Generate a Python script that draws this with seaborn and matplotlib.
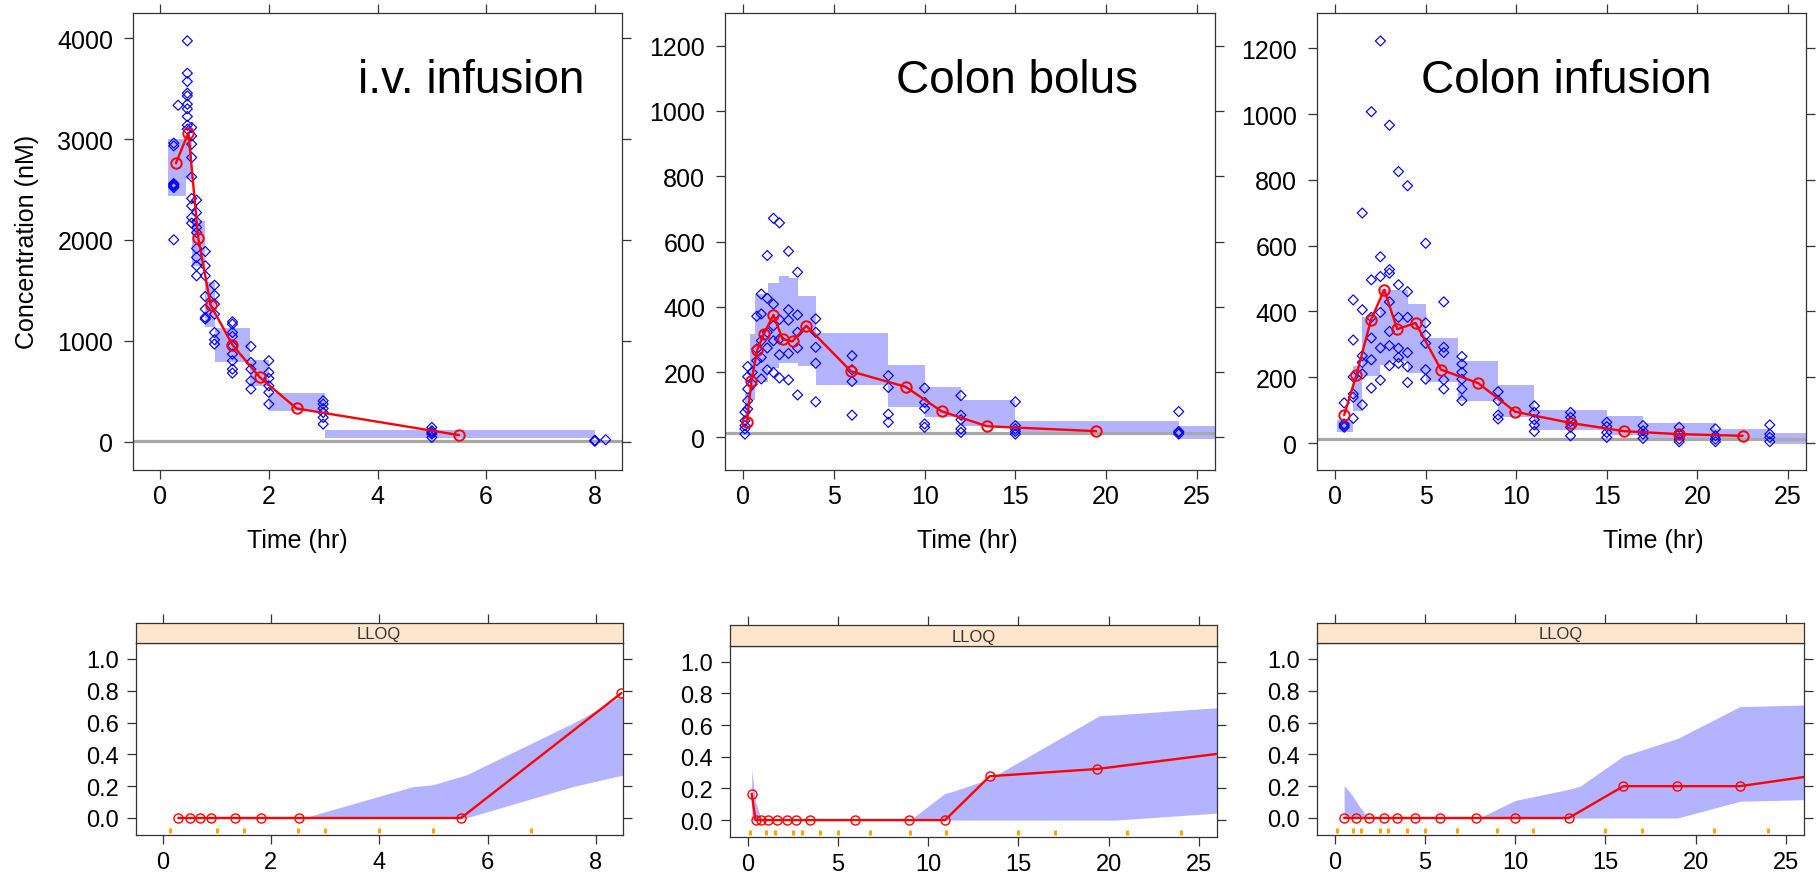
import numpy as np
import pandas as pd
import matplotlib
matplotlib.use("Agg")
import matplotlib.pyplot as plt
import seaborn as sns

sns.set_style("ticks")
plt.rcParams['font.family'] = ['Liberation Sans', 'DejaVu Sans']
plt.rcParams['text.color'] = 'black'
plt.rcParams['xtick.labelcolor'] = 'black'
plt.rcParams['ytick.labelcolor'] = 'black'

W, H = 1816, 878
BAND = '#B3B3FF'
LLOQ = 12
EDGE = '#333333'

# ---------------- i.v. infusion ----------------
iv_obs_times = [0.25, 0.33, 0.5, 0.58, 0.67, 0.83, 1.0, 1.33, 1.67, 2.0, 3.0, 5.0, 8.0, 8.2]
iv_obs_conc = [
    [2960, 2933, 2560, 2545, 2530, 2550, 2520, 2002],
    [3336],
    [3974, 3653, 3571, 3455, 3428, 3346, 3300, 3224, 3138, 3098],
    [3115, 3032, 2950, 2818, 2626, 2411, 2338, 2223, 2167],
    [2395, 2272, 2180, 2124, 2074, 1916, 1827, 1744, 1645],
    [1886, 1744, 1645, 1440, 1315, 1232, 1216],
    [1552, 1453, 1364, 1265, 1083, 1011, 968],
    [1189, 1166, 1083, 1044, 951, 869, 803, 720, 680],
    [945, 786, 720, 604, 522],
    [803, 687, 628, 555, 489, 373],
    [406, 373, 330, 290, 241, 175],
    [142, 109, 92, 76, 43],
    [15, 10, 5],
    [20],
]
iv_med_t = [0.29, 0.52, 0.70, 0.93, 1.33, 1.83, 2.51, 5.50]
iv_med_c = [2761, 3065, 2021, 1354, 961, 641, 330, 66]
iv_bin_edges = [0.15, 0.47, 0.58, 0.83, 1.0, 1.66, 2.0, 3.03, 8.0]
iv_pi_lo = [2438, 2600, 1744, 1133, 786, 555, 300, 40]
iv_pi_hi = [2999, 3000, 2190, 1580, 1126, 809, 482, 116]

iv_blq_t = [0.29, 0.51, 0.69, 0.9, 1.33, 1.82, 2.51, 5.51, 8.47]
iv_blq_obs = [0, 0, 0, 0, 0, 0, 0, 0, 0.785]
iv_blq_band_t = [0.29, 2.6, 4.6, 5.0, 5.6, 7.6, 8.5]
iv_blq_hi = [0, 0, 0.195, 0.21, 0.27, 0.6, 0.77]
iv_blq_lo = [0, 0, 0, 0, 0, 0.2, 0.27]
iv_blq_bins = [0.14, 1.0, 1.5, 2.5, 3.0, 4.0, 5.0, 6.8]

# ---------------- Colon bolus ----------------
cb_obs_times = [0.1, 0.25, 0.5, 0.75, 1.0, 1.33, 1.67, 2.0, 2.5, 3.0, 4.0, 6.0, 8.0, 10.0, 12.0, 15.0, 24.0]
cb_obs_conc = [
    [10, 26, 36, 51, 77],
    [87, 112, 148, 186, 217],
    [163, 199],
    [371, 271, 235],
    [439, 378, 245, 179, 296],
    [557, 426, 322, 274, 207],
    [671, 408, 342, 296, 199],
    [657, 361, 301, 253, 182],
    [570, 391, 359, 257, 176],
    [506, 375, 322, 274, 130],
    [363, 322, 276, 227, 109],
    [250, 207, 171, 68],
    [189, 153, 71, 46],
    [151, 107, 89, 41, 31],
    [128, 68, 54, 26, 15],
    [109, 36, 26, 18, 10],
    [79, 18, 15, 10],
]
cb_med_t = [0.21, 0.46, 0.78, 1.14, 1.67, 2.17, 2.72, 3.48, 5.95, 8.95, 10.93, 13.44, 19.45]
cb_med_c = [46, 174, 268, 317, 375, 301, 294, 342, 202, 155, 80, 34, 19]
cb_bin_edges = [0.1, 0.36, 0.68, 1.35, 2.0, 2.5, 3.0, 4.0, 8.0, 10.0, 12.0, 15.0, 24.0, 26.5]
cb_pi_lo = [70, 114, 171, 214, 227, 227, 219, 159, 93, 62, 36, 15, -5]
cb_pi_hi = [140, 317, 438, 474, 495, 487, 433, 319, 221, 154, 113, 49, 34]

cb_blq_t = [0.23, 0.44, 0.76, 1.12, 1.61, 2.18, 2.71, 3.45, 5.94, 8.95, 10.94, 13.41, 19.37, 28.0]
cb_blq_obs = [0.166, 0, 0, 0, 0, 0, 0, 0, 0, 0, 0, 0.277, 0.323, 0.447]
cb_blq_band_t = [0.23, 0.44, 0.76, 9.0, 10.9, 11.6, 13.4, 19.5, 20.4, 26.0]
cb_blq_hi = [0.32, 0.12, 0, 0, 0.166, 0.19, 0.26, 0.66, 0.665, 0.71]
cb_blq_lo = [0, 0, 0, 0, 0, 0, 0, 0, 0, 0.044]
cb_blq_bins = [0.13, 1.0, 1.5, 2.5, 3.0, 4.0, 5.0, 6.8, 9.0, 11.0, 15.0, 17.0, 21.0, 24.0]

# ---------------- Colon infusion ----------------
ci_obs_times = [0.5, 1.0, 1.5, 2.0, 2.5, 3.0, 3.5, 4.0, 5.0, 6.0, 7.0, 9.0, 11.0, 13.0, 15.0, 17.0, 19.0, 21.0, 24.0]
ci_obs_conc = [
    [122, 58, 53, 48],
    [435, 313, 201, 149, 139, 75],
    [699, 405, 265, 245, 210, 116],
    [1007, 496, 382, 319, 253, 167],
    [1222, 566, 506, 397, 289, 191],
    [966, 527, 516, 429, 339, 296, 235],
    [825, 481, 382, 288, 260, 242],
    [782, 460, 382, 275, 232, 184],
    [607, 365, 328, 303, 223, 194],
    [429, 291, 275, 192, 164],
    [263, 240, 215, 194, 164, 129],
    [156, 129, 85, 73],
    [113, 93, 71, 55, 35],
    [93, 78, 65, 48, 22],
    [63, 50, 32, 17],
    [53, 37, 27, 14],
    [48, 27, 12, 4],
    [43, 22, 12, 4],
    [55, 27, 17, 4],
]
ci_med_t = [0.5, 1.18, 1.98, 2.71, 3.43, 4.44, 5.85, 7.9, 9.95, 13.0, 15.96, 18.99, 22.5]
ci_med_c = [85, 208, 374, 466, 346, 365, 223, 182, 95, 61, 36, 27, 22]
ci_bin_edges = [0.13, 1.0, 1.5, 2.5, 3.0, 4.0, 5.0, 6.8, 9.0, 11.0, 15.0, 17.0, 21.0, 24.0, 26.5]
ci_pi_lo = [32, 98, 205, 237, 250, 213, 184, 129, 78, 41, 24, 14, 10, -3]
ci_pi_hi = [71, 233, 382, 468, 465, 422, 318, 250, 177, 101, 83, 61, 43, 29]

ci_blq_t = [0.53, 1.18, 1.92, 2.74, 3.45, 4.44, 5.83, 7.86, 10.0, 12.97, 16.0, 18.98, 22.45, 28.0]
ci_blq_obs = [0, 0, 0, 0, 0, 0, 0, 0, 0, 0, 0.2, 0.2, 0.2, 0.29]
ci_blq_band_t = [0.53, 1.0, 1.33, 1.85, 8.0, 10.0, 12.97, 13.6, 16.0, 19.0, 22.45, 26.0]
ci_blq_hi = [0.205, 0.14, 0.08, 0, 0, 0.11, 0.18, 0.2, 0.39, 0.5, 0.70, 0.71]
ci_blq_lo = [0, 0, 0, 0, 0, 0, 0, 0, 0, 0, 0.105, 0.115]
ci_blq_bins = [0.13, 1.0, 1.45, 2.5, 2.95, 4.0, 5.0, 6.8, 9.0, 11.0, 15.0, 17.0, 21.0, 24.0]

titles = ['i.v. infusion', 'Colon bolus', 'Colon infusion']
title_x = [471, 1017, 1566]
xlabel_x = [297, 967, 1653]

fig = plt.figure(figsize=(W / 100, H / 100), dpi=100)


def add_ax(x0, x1, y0, y1):
    return fig.add_axes([x0 / W, 1 - y1 / H, (x1 - x0) / W, (y1 - y0) / H])


def style(ax, top=True, right=True, labelsize=18, xpad=4, ypad=8):
    for s in ax.spines.values():
        s.set_color(EDGE)
        s.set_linewidth(0.9)
    ax.tick_params(direction='out', length=6.2, width=0.9, color=EDGE,
                   top=top, right=right, labeltop=False, labelright=False,
                   labelsize=labelsize, labelcolor='black')
    ax.tick_params(axis='x', pad=xpad)
    ax.tick_params(axis='y', pad=ypad)
    ax.set_xlabel('')
    ax.set_ylabel('')


top_pos = [(133, 622, 14, 471), (725, 1215, 14, 471), (1317, 1806, 14, 471)]
bot_pos = [(135.5, 623, 644, 836), (729.5, 1217, 647, 838), (1316.5, 1804, 644, 836)]
strip_pos = [(135.5, 623, 624, 644), (729.5, 1217, 626, 647), (1316.5, 1804, 624, 644)]
xlims = [(-0.5, 8.5), (-1.0, 26.0), (-1.0, 26.0)]
ylims = [(-280, 4250), (-100, 1300), (-82, 1307)]
xticks = [[0, 2, 4, 6, 8], [0, 5, 10, 15, 20, 25], [0, 5, 10, 15, 20, 25]]
yticks = [[0, 1000, 2000, 3000, 4000], [0, 200, 400, 600, 800, 1000, 1200],
          [0, 200, 400, 600, 800, 1000, 1200]]

panels = [
    (iv_obs_times, iv_obs_conc, iv_med_t, iv_med_c, iv_bin_edges, iv_pi_lo, iv_pi_hi,
     iv_blq_t, iv_blq_obs, iv_blq_band_t, iv_blq_lo, iv_blq_hi, iv_blq_bins),
    (cb_obs_times, cb_obs_conc, cb_med_t, cb_med_c, cb_bin_edges, cb_pi_lo, cb_pi_hi,
     cb_blq_t, cb_blq_obs, cb_blq_band_t, cb_blq_lo, cb_blq_hi, cb_blq_bins),
    (ci_obs_times, ci_obs_conc, ci_med_t, ci_med_c, ci_bin_edges, ci_pi_lo, ci_pi_hi,
     ci_blq_t, ci_blq_obs, ci_blq_band_t, ci_blq_lo, ci_blq_hi, ci_blq_bins),
]

for i, (ot, oc, mt, mc, edges, lo, hi, bt, bo, bbt, blo, bhi, bbins) in enumerate(panels):
    # ---- top panel ----
    ax = add_ax(*top_pos[i])
    ax.fill_between(edges, lo + [lo[-1]], hi + [hi[-1]], step='post',
                    color=BAND, lw=0, zorder=1)
    ax.axhline(LLOQ, color='#A8A8A8', lw=2.3, zorder=2)
    df = pd.DataFrame({'t': [t for t, cs in zip(ot, oc) for _ in cs],
                       'c': [c for cs in oc for c in cs]})
    sns.scatterplot(data=df, x='t', y='c', ax=ax, marker='D', s=26,
                    facecolors='none', edgecolors='blue', linewidth=0.85, zorder=3)
    sns.lineplot(x=mt, y=mc, ax=ax, color='red', lw=1.7, marker='o', ms=7.5,
                 markerfacecolor='none', markeredgecolor='red', markeredgewidth=1.4,
                 estimator=None, sort=False, zorder=4)
    ax.set_xlim(*xlims[i])
    ax.set_ylim(*ylims[i])
    ax.set_xticks(xticks[i])
    ax.set_yticks(yticks[i])
    style(ax)
    fig.text(title_x[i] / W, 1 - 93 / H, titles[i], fontsize=33, ha='center',
             va='baseline', color='black')
    fig.text(xlabel_x[i] / W, 1 - 541 / H, 'Time (hr)', fontsize=18, ha='center',
             va='center', color='black')

    # ---- bottom LLOQ panel ----
    bx = add_ax(*bot_pos[i])
    bx.fill_between(bbt, blo, bhi, color=BAND, lw=0, zorder=1)
    sns.lineplot(x=bt, y=bo, ax=bx, color='red', lw=1.7, marker='o', ms=6.5,
                 markerfacecolor='none', markeredgecolor='red', markeredgewidth=1.0,
                 estimator=None, sort=False, zorder=4)
    for b in bbins:
        bx.plot([b, b], [-0.095, -0.06], color='#FFA500', lw=2.2, solid_capstyle='butt', zorder=3)
    bx.set_xlim(*xlims[i])
    bx.set_ylim(-0.107, 1.1)
    bx.set_xticks(xticks[i])
    bx.set_yticks([0, 0.2, 0.4, 0.6, 0.8, 1.0])
    bx.set_yticklabels(['0.0', '0.2', '0.4', '0.6', '0.8', '1.0'])
    style(bx, top=False, labelsize=17, xpad=5, ypad=6)

    sx = add_ax(*strip_pos[i])
    sx.set_facecolor('#FFE5CC')
    sx.set_xlim(*xlims[i])
    sx.set_ylim(0, 1)
    sx.set_xticks(xticks[i])
    sx.set_yticks([])
    style(sx, top=True, right=False)
    sx.tick_params(bottom=False, labelbottom=False, left=False, labelleft=False)
    sx.text(0.5, 0.45, 'LLOQ', transform=sx.transAxes, ha='center', va='center',
            fontsize=12, color='#333333')

fig.text(27 / W, 1 - 242 / H, 'Concentration (nM)', rotation=90, fontsize=18,
         ha='center', va='center', color='black')

fig.savefig('out.png', dpi=100)
